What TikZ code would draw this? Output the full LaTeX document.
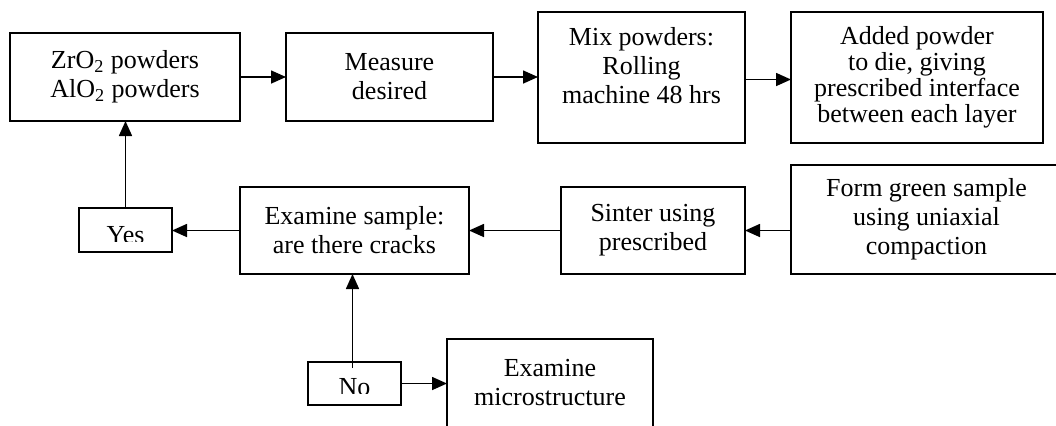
\documentclass[tikz,border=0pt]{standalone}
\usepackage{fontspec}
\setmainfont{Liberation Serif}
\usetikzlibrary{arrows.meta,calc}
\begin{document}
\begin{tikzpicture}[x=0.5pt,y=-0.5pt,
  box/.style={draw=black,line width=0.9pt,rectangle,inner sep=0pt,outer sep=0pt,
    align=center,font=\fontsize{13}{14.5}\selectfont},
  arr/.style={line width=0.8pt,-{Triangle[length=7.5pt,width=6.5pt]}},
  ln/.style={line width=0.8pt}]
\useasboundingbox (0,0) rectangle (1056,425);
\fill[white] (0,0) rectangle (1056,425);
% top row
\node[box,minimum width=115pt,minimum height=44pt] (b1) at (125,77)
  {ZrO\textsubscript{2} powders\\AlO\textsubscript{2} powders};
\node[box,minimum width=103.5pt,minimum height=44pt] (b2) at (389.5,77)
  {Measure\\desired};
\node[box,minimum width=103.5pt,minimum height=65.5pt] (b3) at (641.5,77.5)
  {Mix powders:\\Rolling\\machine 48 hrs\\[-2.5pt]\mbox{}};
\node[box,minimum width=126pt,minimum height=65.5pt,font=\fontsize{13}{13}\selectfont] (b4) at (917,77.5)
  {Added powder\\to die, giving\\prescribed interface\\between each layer};
% middle row
\node[box,minimum width=135.5pt,minimum height=54.5pt] (b5) at (926.5,219.5)
  {Form green sample\\using uniaxial\\compaction};
\node[box,minimum width=92pt,minimum height=43.5pt] (b6) at (653,230.5)
  {Sinter using\\prescribed};
\node[box,minimum width=114.5pt,minimum height=43.5pt] (b7) at (354.5,230.5)
  {Examine sample:\\are there cracks};
\node[box,minimum width=46.5pt,minimum height=22pt,text height=13pt,text depth=0pt] (yes) at (125.5,230)
  {Yes};
% bottom row
\node[box,minimum width=46.5pt,minimum height=21.5pt,text height=12pt,text depth=0pt] (no) at (354.5,383.5)
  {No};
\node[box,minimum width=103pt,minimum height=44pt] (micro) at (550,383)
  {Examine\\microstructure};
% clipped text bottoms of Yes / No
\fill[white] ($(yes.south west)+(1.5,-1.5)$) rectangle ($(yes.south east)+(-1.5,-10)$);
\fill[white] ($(no.south west)+(1.5,-1.5)$) rectangle ($(no.south east)+(-1.5,-11)$);
% connectors
\draw[arr] (b1.east) -- (b1.east -| b2.west);
\draw[arr] (b2.east) -- (b2.east -| b3.west);
\draw[arr] ($(b3.east)+(0,2)$) -- ($(b3.east -| b4.west)+(0,2)$);
\draw[arr] (b5.west |- b6.west) -- (b6.east);
\draw[arr] (b6.west) -- (b6.west -| b7.east);
\draw[arr] (b7.west) -- (b7.west -| yes.east);
\draw[arr] (yes.north) -- (yes.north |- b1.south);
\draw[arr] ($(no.north)+(-2,6)$) -- ($(no.north |- b7.south)+(-2,0)$);
\draw[arr] (no.east) -- (no.east -| micro.west);
\end{tikzpicture}
\end{document}
